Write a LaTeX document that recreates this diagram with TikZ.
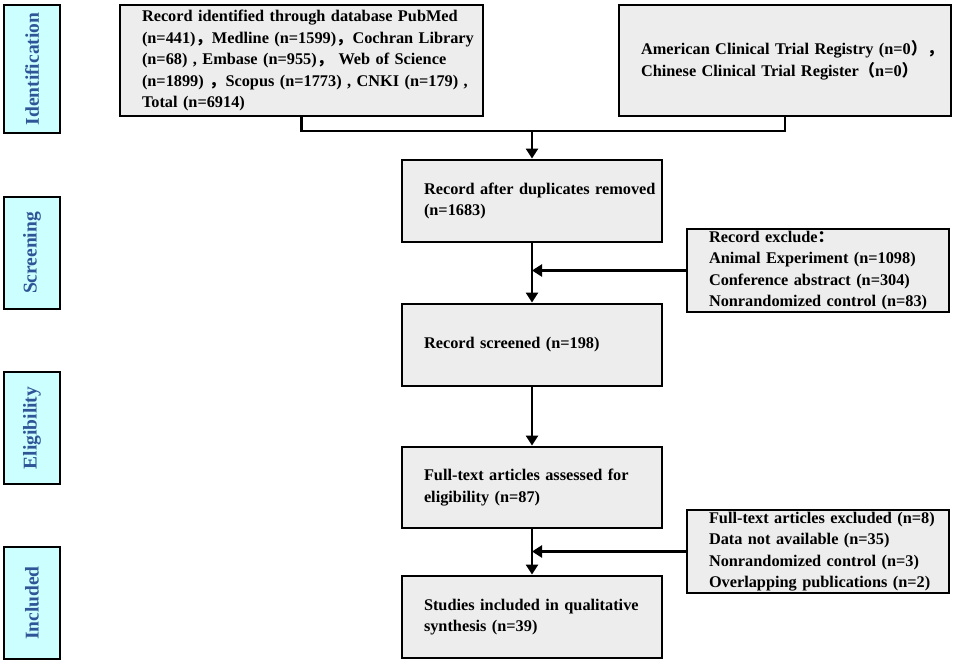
\documentclass[tikz,border=0pt]{standalone}
\usepackage{fontspec}
\setmainfont{Liberation Serif}
\newfontfamily\cjk{Noto Sans CJK SC}
\usetikzlibrary{arrows.meta}
\newcommand\fwc{{\cjk ，}}
\newcommand\fwcolon{{\cjk ：}}
\newcommand\fwlp{{\cjk （}}
\newcommand\fwrp{{\cjk ）}}
\newcommand\tline[1]{\mbox{#1}}
\definecolor{boxgray}{HTML}{EDEDED}
\definecolor{stagefill}{HTML}{CCFFFF}
\definecolor{stagetext}{HTML}{2F5597}
\tikzset{
  box/.style={draw=black, line width=2.9pt, fill=boxgray, inner xsep=22pt, inner ysep=0pt,
    align=left, font=\bfseries\fontsize{16.3}{21.5}\selectfont},
  stage/.style={draw=black, line width=2.9pt, fill=stagefill, rotate=90, inner sep=0pt,
    text=stagetext, font=\bfseries\fontsize{19.5}{22}\selectfont, minimum height=56pt},
  conn/.style={line width=2.9pt},
  arr/.style={line width=2.9pt, -{Triangle[width=12pt,length=10pt]}}
}
\begin{document}
\begin{tikzpicture}[x=1pt,y=-1pt]
\useasboundingbox (0,0) rectangle (957,664);
% stages
\node[stage, minimum width=128pt] (s1) at (32,69) {Identification};
\node[stage, minimum width=112pt] (s2) at (32,253) {Screening};
\node[stage, minimum width=112pt] (s3) at (32,428) {Eligibility};
\node[stage, minimum width=112pt] (s4) at (32,603) {Included};
% boxes
\node[box, text width=319pt, minimum height=111pt] (db) at (301.5,60.5)
  {\tline{Record identified through database PubMed}\\
   \tline{(n=441)\fwc Medline (n=1599)\fwc Cochran Library}\\
   \tline{(n=68) , Embase (n=955)\fwc\ Web of Science}\\
   \tline{(n=1899) \fwc Scopus (n=1773) , CNKI (n=179) ,}\\
   \tline{Total (n=6914)}};
\node[box, text width=288pt, minimum height=111pt] (reg) at (785,60.5)
  {\tline{American Clinical Trial Registry (n=0\fwrp\fwc}\\
   \tline{Chinese Clinical Trial Register\fwlp n=0\fwrp}};
\node[box, text width=216pt, minimum height=82pt] (dup) at (532,201)
  {\tline{Record after duplicates removed}\\\tline{(n=1683)}};
\node[box, text width=218pt, minimum height=83pt] (ex1) at (818,270.5)
  {\tline{Record exclude\fwcolon}\\
   \tline{Animal Experiment (n=1098)}\\
   \tline{Conference abstract (n=304)}\\
   \tline{Nonrandomized control (n=83)}};
\node[box, text width=216pt, minimum height=82pt] (scr) at (532,345)
  {\tline{Record screened (n=198)}};
\node[box, text width=216pt, minimum height=81pt] (full) at (532,487.5)
  {\tline{Full-text articles assessed for}\\\tline{eligibility (n=87)}};
\node[box, text width=218pt, minimum height=83pt] (ex2) at (818,551.5)
  {\tline{Full-text articles excluded (n=8)}\\
   \tline{Data not available (n=35)}\\
   \tline{Nonrandomized control (n=3)}\\
   \tline{Overlapping publications (n=2)}};
\node[box, text width=216pt, minimum height=82pt] (inc) at (532,617)
  {\tline{Studies included in qualitative}\\\tline{synthesis (n=39)}};
% connectors
\coordinate (j) at (532,131);
\draw[conn] (db.south) -- (db.south |- j) -- (reg.south |- j) -- (reg.south);
\draw[arr] (j) -- (dup.north);
\draw[arr] (dup.south) -- (scr.north);
\draw[arr] (ex1.west) -- (ex1.west -| dup.south);
\draw[arr] (scr.south) -- (full.north);
\draw[arr] (full.south) -- (inc.north);
\draw[arr] (ex2.west) -- (ex2.west -| full.south);
\end{tikzpicture}
\end{document}
